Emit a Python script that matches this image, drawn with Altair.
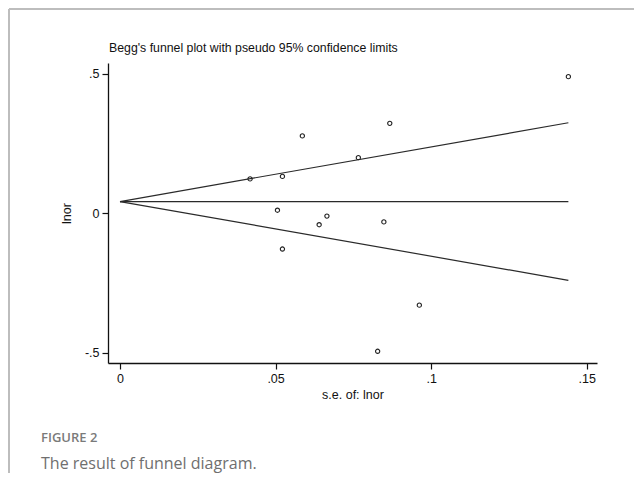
import altair as alt
import pandas as pd

# ---- data ----
se_values = [0.1441, 0.0867, 0.0586, 0.0766, 0.0418, 0.0522, 0.0506,
             0.0665, 0.0640, 0.0848, 0.0522, 0.0962, 0.0828]
lnor_values = [0.489, 0.322, 0.277, 0.199, 0.123, 0.132, 0.011,
               -0.010, -0.041, -0.031, -0.128, -0.329, -0.494]

pooled = 0.042            # funnel vertex / centre line
se_max = 0.1441           # right end of the funnel lines
upper_end = 0.324         # upper pseudo 95% limit at se_max
lower_end = -0.240        # lower pseudo 95% limit at se_max

x_ticks = [0, 0.05, 0.1, 0.15]
y_ticks = [-0.5, 0, 0.5]

title_text = ["Begg's funnel plot with pseudo 95% confidence limits"]
x_title = "s.e. of: lnor"
y_title = "lnor"
fig_label = ["FIGURE 2"]
fig_caption = ["The result of funnel diagram."]

# ---- tables ----
pts = pd.DataFrame({"se": se_values, "lnor": lnor_values})
lines = pd.DataFrame({
    "series": ["upper", "upper", "centre", "centre", "lower", "lower"],
    "se": [0, se_max, 0, se_max, 0, se_max],
    "lnor": [pooled, upper_end, pooled, pooled, pooled, lower_end],
})

W, H = 489, 300
xdom = [-0.00386, 0.1533]
ydom = [-0.536, 0.538]
FONT = "Liberation Sans Narrow, Liberation Sans, Arial, sans-serif"

label_expr = ("datum.value == 0 ? '0' : "
              "replace(replace(datum.label, '\u2212', '-'), '0.', '.')")

x_enc = alt.X("se:Q", scale=alt.Scale(domain=xdom, nice=False, zero=False),
              axis=alt.Axis(values=x_ticks, format=".2~f", labelExpr=label_expr,
                            title=x_title, titlePadding=4))
y_enc = alt.Y("lnor:Q", scale=alt.Scale(domain=ydom, nice=False, zero=False),
              axis=alt.Axis(values=y_ticks, format=".2~f", labelExpr=label_expr,
                            labelAngle=0, title=y_title, titlePadding=11))

line_layer = alt.Chart(lines).mark_line(color="#2a2a2a", strokeWidth=1.2).encode(
    x=x_enc, y=y_enc, detail="series:N")

point_layer = alt.Chart(pts).mark_point(shape="circle", filled=False, size=18,
                                        color="#222222", strokeWidth=1.1,
                                        opacity=1).encode(
    x=alt.X("se:Q"), y=alt.Y("lnor:Q"))

title_layer = alt.Chart(pd.DataFrame({"t": title_text})).mark_text(
    align="left", baseline="alphabetic", font=FONT, fontSize=12.3, color="#111111"
).encode(x=alt.value(1), y=alt.value(-11), text="t:N")

label_layer = alt.Chart(pd.DataFrame({"t": fig_label})).mark_text(
    align="left", baseline="alphabetic", font="Open Sans", fontSize=13,
    fontWeight=600, color="#7a7a7a"
).encode(x=alt.value(-67), y=alt.value(379), text="t:N")

caption_layer = alt.Chart(pd.DataFrame({"t": fig_caption})).mark_text(
    align="left", baseline="alphabetic", font="Open Sans", fontSize=16,
    color="#6f6f6f"
).encode(x=alt.value(-67), y=alt.value(406), text="t:N")

border_top = alt.Chart(pd.DataFrame({"a": [0]})).mark_rule(
    color="#bdbdbd", strokeWidth=2).encode(
    x=alt.value(-99), x2=alt.value(W + 37), y=alt.value(-54))
border_left = alt.Chart(pd.DataFrame({"a": [0]})).mark_rule(
    color="#bdbdbd", strokeWidth=2).encode(
    x=alt.value(-99), y=alt.value(-54), y2=alt.value(H + 110))

chart = alt.layer(
    border_top, border_left, line_layer, point_layer,
    title_layer, label_layer, caption_layer
).properties(
    width=W, height=H,
    autosize=alt.AutoSizeParams(type="none"),
    padding={"left": 100, "top": 55, "right": 37, "bottom": 110},
    background="white",
).configure_view(stroke=None).configure_axis(
    grid=False, domainColor="#111111", domainWidth=1.3,
    tickColor="#111111", tickWidth=1.2, tickSize=6,
    labelFont=FONT, labelFontSize=12.5, labelColor="#111111", labelPadding=3,
    titleFont=FONT, titleFontSize=12.5, titleFontWeight="normal", titleColor="#111111",
)

chart.save("out.html", embed_options={"renderer": "svg", "actions": False})
